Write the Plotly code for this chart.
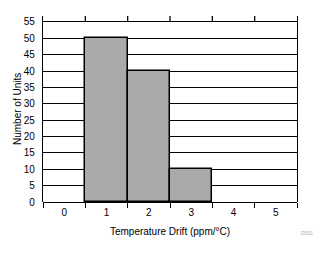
import plotly.graph_objects as go

categories = ["0", "1", "2", "3", "4", "5"]
units = [0, 50, 40, 10, 0, 0]
y_ticks = list(range(0, 56, 5))

font = "Liberation Sans, Arial, sans-serif"

bar_y = [v if v > 0 else None for v in units]

fig = go.Figure()
fig.add_trace(go.Bar(
    x=categories, y=bar_y, width=1,
    marker=dict(color="#aaaaaa", line=dict(color="black", width=1.5)),
    showlegend=False, hoverinfo="skip",
))

# short tick marks hanging from the top edge at each category boundary
shapes = []
for i in range(len(categories) - 1):
    shapes.append(dict(
        type="line", xref="x", yref="paper",
        x0=i + 0.5, x1=i + 0.5, y0=1, y1=1 - 6 / 186,
        line=dict(color="black", width=1.3),
    ))

fig.update_layout(
    width=330, height=254,
    margin=dict(l=43, r=33, t=16, b=52),
    paper_bgcolor="white", plot_bgcolor="white",
    font=dict(family=font, size=10, color="black"),
    bargap=0,
    shapes=shapes,
    xaxis=dict(
        type="category", categoryorder="array", categoryarray=categories,
        range=[-0.5, 5.5], tickson="boundaries",
        ticks="outside", ticklen=5, tickwidth=1.3, tickcolor="black",
        showline=False, showgrid=False, zeroline=False,
        ticklabelstandoff=3,
        title=dict(text="Temperature Drift (ppm/°C)", font=dict(size=10), standoff=10),
        tickfont=dict(size=10),
    ),
    yaxis=dict(
        range=[0, 56.8], tickvals=y_ticks,
        showgrid=True, gridcolor="black", gridwidth=1.3,
        zeroline=True, zerolinecolor="black", zerolinewidth=1.3,
        showline=True, linecolor="black", linewidth=1.3, mirror=True,
        ticks="", ticklabelstandoff=5,
        tickfont=dict(size=10),
    ),
    annotations=[
        dict(
            text="Number of Units", xref="paper", yref="paper",
            x=(17 - 43) / 254, y=0.5, textangle=-90, showarrow=False,
            font=dict(size=10), xanchor="center", yanchor="middle",
        ),
        dict(
            text="D051", xref="paper", yref="paper", x=1.04, y=-0.165,
            showarrow=False, font=dict(size=5, color="#aaaaaa"),
            xanchor="center", yanchor="middle",
        ),
    ],
)

fig.write_html("out.html")
